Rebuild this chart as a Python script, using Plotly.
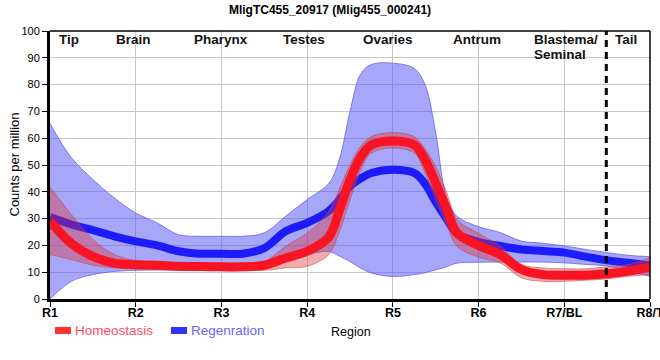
import plotly.graph_objects as go

# ---- data ----
regions = [1, 1.25, 1.5, 1.75, 2, 2.25, 2.5, 2.75, 3, 3.25, 3.5, 3.75, 4, 4.25, 4.375, 4.5,
           4.625, 4.75, 5, 5.25, 5.375, 5.5, 5.625, 5.75, 6, 6.25, 6.5, 6.75, 7, 7.25, 7.5,
           7.75, 8]
tick_vals = [1, 2, 3, 4, 5, 6, 7, 8]
tick_text = ["R1", "R2", "R3", "R4", "R5", "R6", "R7/BL", "R8/T"]

homeo = [29, 20.7, 15.9, 13.4, 12.8, 12.6, 12.2, 12.1, 12.0, 12.0, 12.6, 15.3, 17.8, 23, 33, 44.5,
         53, 57.5, 59, 57.5, 52, 43.2, 34, 24.6, 20, 16.6, 11, 9.1, 8.9, 8.9, 9.4,
         10.4, 12]
homeo_hi = [41.8, 31.5, 22.2, 16.6, 14.4, 13.8, 13.4, 13.4, 13.4, 13.4, 14, 19.7, 24.7, 32.5, 41, 50,
            57, 60.6, 62.1, 60.6, 56, 49.4, 40, 29.6, 24.5, 19.8, 12.9, 11.6, 11.3, 11.3, 12,
            12.9, 15.4]
homeo_lo = [16.6, 14.7, 12.6, 11.6, 11.2, 11, 11, 11, 11, 11, 10.7, 11.6, 12.2, 16.5, 25, 37,
            48, 54.4, 56.3, 54.4, 47, 37, 28, 19.6, 15.6, 13.5, 7.9, 6.6, 6.6, 7, 7.5,
            8.5, 9.1]

regen = [30.6, 27.8, 25.7, 23.4, 21.5, 20, 17.8, 16.9, 16.9, 16.9, 19, 25.3, 28.4, 32.8, 37, 42,
         45, 47, 48.2, 47, 43, 36.2, 30, 24.4, 21.3, 19.8, 18.5, 17.9, 17.3, 15.8, 14.4,
         13.5, 12.5]
regen_hi = [65.5, 52.7, 44.6, 37.7, 32.1, 28.4, 24, 23.4, 23.4, 23.4, 24.7, 30.9, 37.1, 43, 52, 70,
            84, 87.5, 88, 86, 80, 62, 38, 30.8, 27, 24.8, 21.6, 20.8, 19.8, 18.5, 17.3,
            16.3, 15.8]
regen_lo = [0, 6.6, 9.1, 10.3, 10.7, 10.8, 10.8, 10.7, 10.7, 10.7, 11.6, 14.7, 16.6, 17.8, 16, 14,
            11.5, 9.7, 8.4, 9.1, 9.8, 10.9, 12, 13.4, 13.7, 13.8, 13.8, 13.8, 13.5, 12.9, 12.3,
            10.4, 8.5]

region_names = ["Tip", "Brain", "Pharynx", "Testes", "Ovaries", "Antrum", "Tail"]
region_pos = [1.22, 1.97, 2.99, 3.96, 4.94, 5.98, 7.72]
blastema_pos = 6.644
boundary_x = 7.49

FONT = "Liberation Sans, Arial, sans-serif"

fig = go.Figure()

# Regeneration band
fig.add_trace(go.Scatter(x=regions, y=regen_lo, mode="lines",
                         line=dict(color="rgba(90,90,245,0.75)", width=1, shape="spline"),
                         showlegend=False, hoverinfo="skip"))
fig.add_trace(go.Scatter(x=regions, y=regen_hi, mode="lines", fill="tonexty",
                         fillcolor="rgba(80,80,245,0.5)",
                         line=dict(color="rgba(90,90,245,0.75)", width=1, shape="spline"),
                         showlegend=False, hoverinfo="skip"))
fig.add_trace(go.Scatter(x=regions, y=regen, mode="lines", name="Regenration",
                         line=dict(color="rgb(28,28,250)", width=8, shape="spline"),
                         showlegend=False))

# Homeostasis band
fig.add_trace(go.Scatter(x=regions, y=homeo_lo, mode="lines",
                         line=dict(color="rgba(215,60,60,0.55)", width=1, shape="spline"),
                         showlegend=False, hoverinfo="skip"))
fig.add_trace(go.Scatter(x=regions, y=homeo_hi, mode="lines", fill="tonexty",
                         fillcolor="rgba(220,50,50,0.4)",
                         line=dict(color="rgba(215,60,60,0.55)", width=1, shape="spline"),
                         showlegend=False, hoverinfo="skip"))
fig.add_trace(go.Scatter(x=regions, y=homeo, mode="lines", name="Homeostasis",
                         line=dict(color="rgb(248,20,35)", width=9, shape="spline"),
                         showlegend=False))

annotations = []
for name, pos in zip(region_names, region_pos):
    annotations.append(dict(x=pos, y=(299 - 39.5) / 268, xref="x", yref="paper",
                            text=f"<b>{name}</b>", showarrow=False,
                            font=dict(family=FONT, size=13.5, color="#111"),
                            xanchor="center", yanchor="middle"))
annotations.append(dict(x=blastema_pos, y=(299 - 39.5) / 268, xref="x", yref="paper",
                        text="<b>Blastema/</b>", showarrow=False,
                        font=dict(family=FONT, size=13.5, color="#111"),
                        xanchor="left", yanchor="middle", xshift=-2))
annotations.append(dict(x=blastema_pos, y=(299 - 54.5) / 268, xref="x", yref="paper",
                        text="<b>Seminal</b>", showarrow=False,
                        font=dict(family=FONT, size=13.5, color="#111"),
                        xanchor="left", yanchor="middle", xshift=-2))

# axis titles
annotations.append(dict(x=(351 - 50) / 600, y=(299 - 331.5) / 268, xref="paper", yref="paper",
                        text="Region", showarrow=False,
                        font=dict(family=FONT, size=12.5, color="#000"),
                        xanchor="center", yanchor="middle"))
annotations.append(dict(x=(13.5 - 50) / 600, y=0.5, xref="paper", yref="paper",
                        text="Counts per million", showarrow=False, textangle=-90,
                        font=dict(family=FONT, size=13, color="#000"),
                        xanchor="center", yanchor="middle"))

# legend (manual)
annotations.append(dict(x=(73 - 50) / 600, y=(299 - 330) / 268, xref="paper", yref="paper",
                        text="Homeostasis", showarrow=False,
                        font=dict(family=FONT, size=13.5, color="rgb(255,75,95)"),
                        xanchor="left", yanchor="middle"))
annotations.append(dict(x=(189 - 50) / 600, y=(299 - 330) / 268, xref="paper", yref="paper",
                        text="Regenration", showarrow=False,
                        font=dict(family=FONT, size=13.5, color="rgb(100,100,255)"),
                        xanchor="left", yanchor="middle"))

shapes = [
    # legend swatches
    dict(type="rect", xref="paper", yref="paper",
         x0=(55 - 50) / 600, x1=(71 - 50) / 600, y0=(299 - 327) / 268, y1=(299 - 334) / 268,
         fillcolor="rgb(255,50,50)", line=dict(width=0)),
    dict(type="rect", xref="paper", yref="paper",
         x0=(171 - 50) / 600, x1=(187 - 50) / 600, y0=(299 - 327) / 268, y1=(299 - 334) / 268,
         fillcolor="rgb(50,50,255)", line=dict(width=0)),
    # thin frame top / right
    dict(type="line", xref="paper", yref="paper", x0=0, x1=1, y0=1, y1=1,
         line=dict(color="black", width=1.5)),
    dict(type="line", xref="paper", yref="paper", x0=1, x1=1, y0=0, y1=1,
         line=dict(color="black", width=1.5)),
    # boundary dashed line
    dict(type="line", xref="x", yref="paper", x0=boundary_x, x1=boundary_x, y0=0, y1=1,
         line=dict(color="black", width=3, dash="7px,5px")),
]

fig.update_layout(
    width=660, height=360,
    margin=dict(l=50, r=10, t=31, b=61, autoexpand=False),
    paper_bgcolor="white", plot_bgcolor="white",
    title=dict(text="<b>MligTC455_20917 (Mlig455_000241)</b>", x=0.5, xref="container",
               y=1 - 9.5 / 360, yref="container", xanchor="center", yanchor="middle",
               font=dict(family=FONT, size=12, color="#000")),
    font=dict(family=FONT, color="#000"),
    xaxis=dict(range=[1, 8], tickmode="array", tickvals=tick_vals, ticktext=tick_text,
               showgrid=True, gridcolor="rgb(200,200,200)", gridwidth=1,
               showline=True, linecolor="black", linewidth=3,
               ticks="outside", ticklen=5, tickcolor="black", tickwidth=1,
               ticklabelstandoff=-5, ticklabeloverflow="allow", automargin=False,
               tickfont=dict(family=FONT, size=12.5, color="#000", weight="bold"),
               zeroline=False, fixedrange=True),
    yaxis=dict(range=[0, 100], tickmode="linear", tick0=0, dtick=10,
               showgrid=True, gridcolor="rgb(200,200,200)", gridwidth=1,
               showline=True, linecolor="black", linewidth=3,
               ticks="outside", ticklen=5, tickcolor="black", tickwidth=1,
               automargin=False,
               tickfont=dict(family=FONT, size=11, color="#000"),
               zeroline=False, fixedrange=True),
    annotations=annotations,
    shapes=shapes,
    showlegend=False,
)

fig.write_html("out.html", config={"displayModeBar": False},
               post_script="document.body.style.margin='0';document.body.style.padding='0';")
